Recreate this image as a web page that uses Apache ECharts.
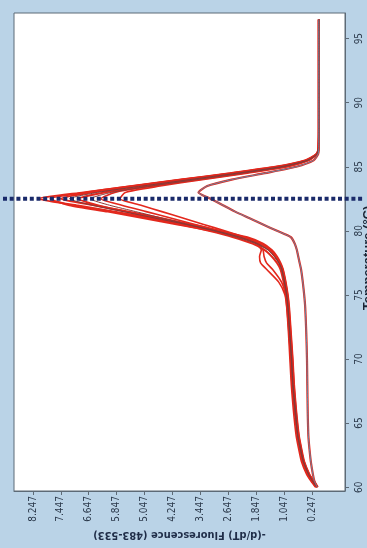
<!DOCTYPE html>
<html>
<head>
<meta charset="utf-8">
<script src="https://cdn.jsdelivr.net/npm/echarts@6/dist/echarts.min.js"></script>
<style>
  html, body { margin: 0; padding: 0; background: #bad3e7; }
  #chart { width: 367px; height: 548px; }
</style>
</head>
<body>
<div id="chart"></div>
<script>
// Melting-peak curves (-dF/dT), drawn with temperature running up the right side.
const temperature = [60, 60.5, 61, 62, 63, 64, 66, 68, 70, 72, 74, 75, 76, 77, 77.5, 78, 78.5, 79, 79.5, 80,
                     80.5, 81, 81.5, 82, 82.5, 83, 83.5, 84, 84.5, 85, 85.5, 86, 86.5, 88, 90, 92, 94, 96.5];

const sampleA = [0.08,0.20,0.32,0.47,0.55,0.62,0.70,0.76,0.80,0.85,0.90,0.94,1.00,1.08,1.15,1.25,1.40,1.65,2.10,2.90,
                 3.90,4.90,5.90,7.00,8.10,6.80,5.40,4.00,2.60,1.30,0.45,0.12,0.06,0.05,0.05,0.05,0.05,0.05];
const sampleB = [0.12,0.25,0.36,0.50,0.58,0.65,0.72,0.78,0.82,0.87,0.92,0.96,1.02,1.10,1.18,1.30,1.45,1.75,2.20,2.90,
                 3.70,4.60,5.50,6.50,7.45,6.60,5.30,3.90,2.50,1.20,0.40,0.10,0.06,0.05,0.05,0.05,0.05,0.05];
const sampleC = [0.10,0.22,0.33,0.48,0.57,0.64,0.73,0.80,0.85,0.90,0.96,1.00,1.06,1.15,1.25,1.40,1.60,1.95,2.50,3.20,
                 4.00,4.80,5.60,6.40,6.95,6.20,4.90,3.60,2.30,1.10,0.38,0.10,0.06,0.05,0.05,0.05,0.05,0.05];
const sampleD = [0.15,0.28,0.40,0.55,0.63,0.70,0.78,0.84,0.88,0.92,0.97,1.02,1.20,1.55,1.72,1.75,1.70,1.85,2.30,2.90,
                 3.60,4.30,5.00,5.70,6.30,5.90,4.80,3.50,2.20,1.00,0.35,0.10,0.06,0.05,0.05,0.05,0.05,0.05];
const sampleE = [0.13,0.26,0.38,0.52,0.60,0.67,0.75,0.82,0.86,0.90,0.95,1.00,1.12,1.38,1.55,1.62,1.65,1.80,2.20,2.75,
                 3.35,3.95,4.55,5.15,5.75,5.60,4.60,3.40,2.10,0.95,0.33,0.10,0.06,0.05,0.05,0.05,0.05,0.05];
const sampleF = [0.09,0.21,0.34,0.49,0.56,0.63,0.71,0.77,0.81,0.86,0.91,0.95,1.01,1.09,1.17,1.28,1.45,1.75,2.30,3.10,
                 4.10,5.10,6.10,7.20,7.75,6.70,5.35,3.95,2.55,1.25,0.42,0.11,0.06,0.05,0.05,0.05,0.05,0.05];
const sampleG = [0.11,0.24,0.35,0.50,0.59,0.66,0.74,0.80,0.84,0.89,0.94,0.98,1.04,1.12,1.20,1.33,1.50,1.85,2.40,3.05,
                 3.80,4.55,5.30,6.05,6.60,6.00,4.85,3.55,2.25,1.05,0.36,0.10,0.06,0.05,0.05,0.05,0.05,0.05];
const sampleH = [0.10,0.23,0.34,0.49,0.57,0.65,0.72,0.79,0.83,0.88,0.93,0.97,1.03,1.11,1.19,1.32,1.50,1.80,2.30,3.00,
                 3.85,4.75,5.65,6.55,7.20,6.40,5.10,3.75,2.40,1.15,0.39,0.10,0.06,0.05,0.05,0.05,0.05,0.05];
const sampleLow = [0.10,0.18,0.22,0.28,0.32,0.35,0.37,0.38,0.39,0.41,0.44,0.47,0.51,0.56,0.60,0.64,0.68,0.74,0.85,1.25,
                   1.65,2.05,2.45,2.80,3.15,3.50,3.25,2.55,1.60,0.70,0.20,0.07,0.05,0.05,0.05,0.05,0.05,0.05];

const fluorTicks = [0.247, 1.047, 1.847, 2.647, 3.447, 4.247, 5.047, 5.847, 6.647, 7.447, 8.247];
const tempTicks = [60, 65, 70, 75, 80, 85, 90, 95];
const peakTemperature = 82.5;
const tempTitle = 'Temperature (°C)';

const RED = '#e3281d';
const labelFont = '"Liberation Sans Narrow", "DejaVu Sans Condensed", "Liberation Sans", sans-serif';

function curve(name, values, color, width, z) {
  return {
    name: name,
    type: 'line',
    data: temperature.map((t, i) => [values[i], t]),
    showSymbol: false,
    smooth: 0.2,
    z: z,
    lineStyle: { color: color, width: width },
    emphasis: { disabled: true }
  };
}

const chart = echarts.init(document.getElementById('chart'), null, { renderer: 'canvas' });

chart.setOption({
  animation: false,
  backgroundColor: '#bad3e7',
  grid: {
    left: 14, right: 22, top: 13, bottom: 57,
    outerBoundsMode: 'none',
    containLabel: false,
    show: true, backgroundColor: '#ffffff', borderColor: '#5d6a76', borderWidth: 1
  },
  xAxis: {
    type: 'value',
    inverse: true,
    min: -0.70,
    max: 8.79,
    position: 'bottom',
    splitLine: { show: false },
    axisLine: { show: true, onZero: false, lineStyle: { color: '#5d6a76' } },
    axisTick: { show: true, length: 4, customValues: fluorTicks, lineStyle: { color: '#5d6a76' } },
    axisLabel: {
      customValues: fluorTicks,
      rotate: 90,
      margin: 5,
      color: '#2c3a4c',
      fontSize: 10,
      fontFamily: labelFont,
      formatter: v => v.toFixed(3)
    },
    name: '-(d/dT) Fluorescence (483-533)',
    nameLocation: 'middle',
    nameRotate: 180,
    nameGap: 32,
    nameTextStyle: { color: '#1f2d48', fontSize: 11, fontWeight: 'bold', fontFamily: labelFont }
  },
  yAxis: {
    type: 'value',
    position: 'right',
    min: 59.7,
    max: 97,
    splitLine: { show: false },
    axisLine: { show: true, onZero: false, lineStyle: { color: '#5d6a76' } },
    axisTick: { show: true, length: 4, customValues: tempTicks, lineStyle: { color: '#5d6a76' } },
    axisLabel: {
      customValues: tempTicks,
      rotate: 90,
      margin: 9,
      color: '#2c3a4c',
      fontSize: 10,
      fontFamily: labelFont
    }
  },
  series: [
    curve('A', sampleA, RED, 2, 2),
    curve('B', sampleB, RED, 2, 2),
    curve('C', sampleC, RED, 2, 2),
    curve('D', sampleD, RED, 1.6, 2),
    curve('E', sampleE, RED, 1.6, 2),
    curve('F', sampleF, RED, 2, 2),
    curve('G', sampleG, '#8c3a36', 1, 3),
    curve('H', sampleH, '#7d3a3a', 1, 3),
    curve('Low', sampleLow, RED, 2.2, 2),
    curve('LowCore', sampleLow, '#6b84a0', 1, 4)
  ]
});

// Dashed marker across the melting peak, placed through the temperature scale,
// and the temperature axis title running up the far right edge.
const peakY = chart.convertToPixel({ yAxisIndex: 0 }, peakTemperature);
const axisTopY = chart.convertToPixel({ yAxisIndex: 0 }, 97);
const axisBottomY = chart.convertToPixel({ yAxisIndex: 0 }, 59.7);
const axisRightX = chart.getWidth() - 22;
chart.setOption({
  graphic: [{
    type: 'line',
    z: 100,
    shape: { x1: 3, y1: peakY, x2: 363, y2: peakY },
    style: { stroke: '#1a2a6a', lineWidth: 4, lineDash: [4, 2.7] }
  }, {
    type: 'text',
    z: 100,
    x: axisRightX + 23,
    y: (axisTopY + axisBottomY) / 2 + 6,
    rotation: Math.PI / 2,
    style: {
      text: tempTitle,
      fill: '#1a2333',
      font: 'bold 13px "Liberation Sans", sans-serif',
      align: 'center',
      verticalAlign: 'middle'
    }
  }]
});
</script>
</body>
</html>
